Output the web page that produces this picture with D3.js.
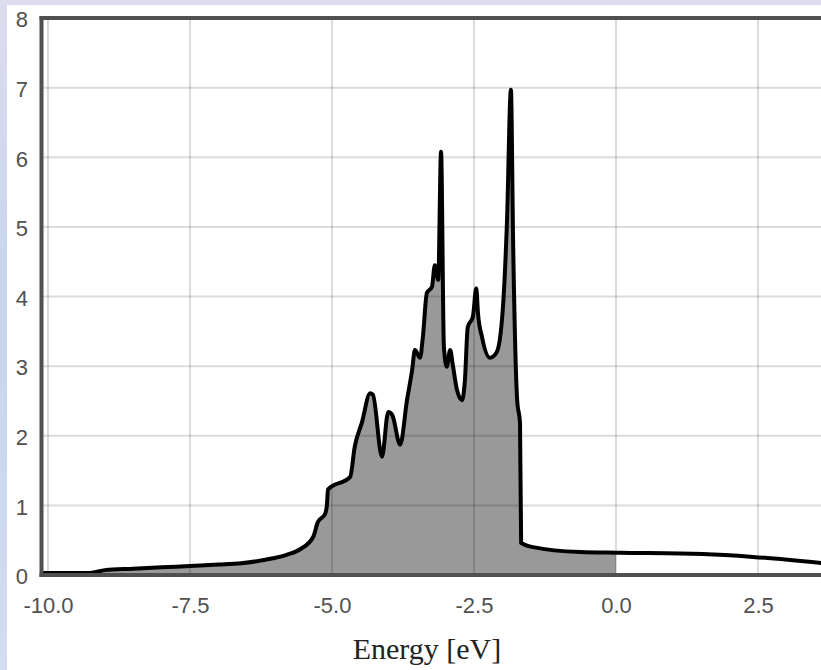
<!DOCTYPE html>
<html>
<head>
<meta charset="utf-8">
<script src="https://cdn.jsdelivr.net/npm/d3@7"></script>
<style>
html,body{margin:0;padding:0;background:#fff;}
svg{display:block;}
</style>
</head>
<body>
<svg id="chart" width="821" height="670"></svg>
<script>
// Data
const energy = [-10.14, -9.26, -9.0, -8.5, -8.0, -7.5, -7.0, -6.6, -6.04, -5.8, -5.56, -5.33, -5.25, -5.12, -5.09, -5.07,
  -4.68, -4.60, -4.47, -4.33, -4.28, -4.12, -4.01, -3.94, -3.80, -3.68, -3.59, -3.54, -3.45, -3.40, -3.33, -3.24,
  -3.19, -3.13, -3.08, -3.03, -2.98, -2.92, -2.87, -2.80, -2.71, -2.66, -2.61, -2.52, -2.46, -2.43, -2.36, -2.22,
  -2.10, -1.99, -1.92, -1.85, -1.81, -1.74, -1.69, -1.67, -1.46, -0.63, 0.07, 1.53, 2.41, 3.65];
const dos = [0.03, 0.03, 0.07, 0.09, 0.11, 0.13, 0.15, 0.17, 0.24, 0.29, 0.37, 0.55, 0.76, 0.88, 1.0, 1.23,
  1.41, 1.84, 2.2, 2.61, 2.59, 1.70, 2.34, 2.30, 1.87, 2.51, 2.94, 3.23, 3.12, 3.42, 4.05, 4.14,
  4.45, 4.24, 6.08, 3.28, 2.99, 3.23, 3.0, 2.66, 2.51, 2.80, 3.56, 3.71, 4.12, 3.76, 3.42, 3.12,
  3.2, 3.85, 5.06, 6.97, 4.71, 2.51, 2.18, 0.46, 0.40, 0.33, 0.32, 0.30, 0.26, 0.17];
const xTicks = [-10.0, -7.5, -5.0, -2.5, 0.0, 2.5];
const yTicks = [0, 1, 2, 3, 4, 5, 6, 7, 8];
const fermiLevel = 0.0;
const xLabel = "Energy [eV]";

const svg = d3.select("#chart");
const W = 821, H = 670;
const pL = 41.5, pT = 18, pB = 575;

// background
const defs = svg.append("defs");
const grad = defs.append("linearGradient").attr("id", "bg").attr("x1", 0).attr("y1", 0).attr("x2", 0).attr("y2", 1);
grad.append("stop").attr("offset", "0%").attr("stop-color", "#dcdcee");
grad.append("stop").attr("offset", "45%").attr("stop-color", "#c6d4ef");
grad.append("stop").attr("offset", "100%").attr("stop-color", "#d2dcf2");
svg.append("rect").attr("width", W).attr("height", H).attr("fill", "url(#bg)");
svg.append("rect").attr("x", 7).attr("y", 5).attr("width", W - 7).attr("height", H - 5).attr("fill", "#fff");

// -10 at x=48, 2.5 eV per 142 px
const x = d3.scaleLinear().domain([-10, 2.5]).range([48, 48 + 142 * 5]);
const y = d3.scaleLinear().domain([0, 8]).range([pB, pT]);

const data = energy.map((e, i) => ({e, d: dos[i]}));

defs.append("clipPath").attr("id", "fillclip").append("rect")
  .attr("x", pL).attr("y", pT).attr("width", x(fermiLevel) - pL).attr("height", pB - pT);
defs.append("clipPath").attr("id", "plotclip").append("rect")
  .attr("x", pL).attr("y", pT - 2).attr("width", W - pL).attr("height", pB - pT + 2);

const curve = d3.curveMonotoneX;
const area = d3.area().x(d => x(d.e)).y0(y(0)).y1(d => y(d.d)).curve(curve);
const line = d3.line().x(d => x(d.e)).y(d => y(d.d)).curve(curve);

svg.append("path").datum(data).attr("d", area).attr("fill", "#999999")
  .attr("clip-path", "url(#fillclip)");

// gridlines
const grid = svg.append("g").attr("stroke", "rgba(0,0,0,0.14)").attr("stroke-width", 2);
grid.selectAll(".gx").data(xTicks).enter().append("line")
  .attr("x1", d => x(d)).attr("x2", d => x(d)).attr("y1", pT).attr("y2", pB);
grid.selectAll(".gy").data(yTicks.filter(v => v > 0 && v < 8)).enter().append("line")
  .attr("x1", pL).attr("x2", W).attr("y1", d => y(d)).attr("y2", d => y(d));

// curve
svg.append("path").datum(data).attr("d", line).attr("fill", "none")
  .attr("stroke", "#000").attr("stroke-width", 4).attr("stroke-linejoin", "round").attr("stroke-linecap", "round")
  .attr("clip-path", "url(#plotclip)");

// frame
const frame = svg.append("g").attr("stroke", "#505050").attr("stroke-width", 4);
frame.append("line").attr("x1", pL).attr("x2", pL).attr("y1", pT - 2).attr("y2", pB + 2);
frame.append("line").attr("x1", pL - 2).attr("x2", W).attr("y1", pT).attr("y2", pT);
frame.append("line").attr("x1", pL - 2).attr("x2", W).attr("y1", pB).attr("y2", pB);

// tick labels via d3 axes (lines hidden)
const font = "'Liberation Sans', Arial, sans-serif";
const fmtX = d => d.toFixed(1);
const xAxis = svg.append("g").attr("transform", `translate(0,${pB})`)
  .call(d3.axisBottom(x).tickValues(xTicks).tickFormat(fmtX).tickSize(0).tickPadding(22));
xAxis.select(".domain").remove();
xAxis.selectAll("text").attr("font-family", font).attr("font-size", 22).attr("fill", "#505050");

const yAxis = svg.append("g").attr("transform", `translate(28,0)`)
  .call(d3.axisLeft(y).tickValues(yTicks).tickFormat(d => String(d)).tickSize(0).tickPadding(0));
yAxis.select(".domain").remove();
yAxis.selectAll("text").attr("font-family", font).attr("font-size", 22).attr("fill", "#505050")
  .attr("dy", "0.4em");

svg.append("text").attr("x", 427).attr("y", 659).attr("text-anchor", "middle")
  .attr("font-family", "'Liberation Serif', 'Times New Roman', serif").attr("font-size", 30)
  .attr("fill", "#222").text(xLabel);
</script>
</body>
</html>
